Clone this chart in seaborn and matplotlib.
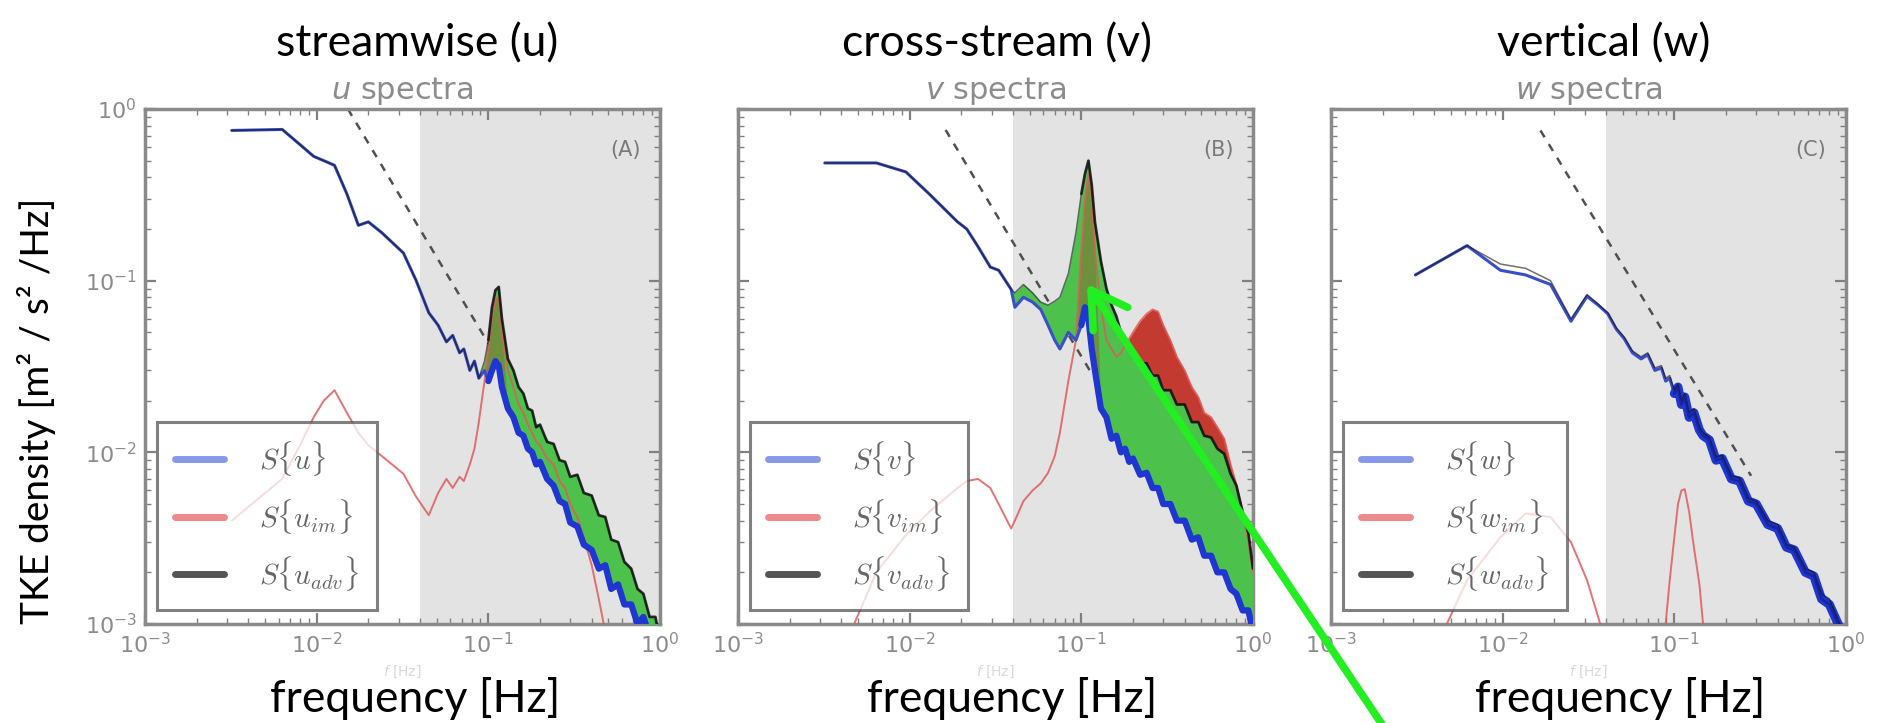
import matplotlib
matplotlib.use("Agg")
import matplotlib.pyplot as plt
import seaborn as sns
import numpy as np
from matplotlib.lines import Line2D
from matplotlib.font_manager import FontProperties
from matplotlib.patches import FancyArrowPatch
from matplotlib.ticker import LogLocator, NullFormatter

# ---------------- data ----------------
# Panel A : streamwise u
fA = [0.0032, 0.0063, 0.008, 0.0096, 0.011, 0.0127, 0.015, 0.0175, 0.02, 0.024,
      0.032, 0.038, 0.045, 0.051, 0.057, 0.062, 0.068, 0.072, 0.078, 0.083,
      0.088, 0.095, 0.10, 0.105, 0.11, 0.115, 0.12, 0.13, 0.14, 0.15,
      0.16, 0.17, 0.18, 0.19, 0.20, 0.22, 0.24, 0.26, 0.28, 0.30,
      0.33, 0.36, 0.40, 0.44, 0.48, 0.52, 0.57, 0.62, 0.68, 0.74,
      0.80, 0.87, 0.94, 1.0]
Su_A = [0.75, 0.76, 0.62, 0.53, 0.50, 0.47, 0.32, 0.21, 0.22, 0.19,
        0.145, 0.10, 0.065, 0.055, 0.044, 0.048, 0.038, 0.040, 0.030, 0.034,
        0.027, 0.030, 0.026, 0.030, 0.034, 0.032, 0.024, 0.018, 0.016, 0.013,
        0.0125, 0.0105, 0.0100, 0.0085, 0.0088, 0.0070, 0.0064, 0.0052, 0.0050, 0.0039,
        0.0037, 0.0029, 0.0027, 0.0021, 0.0022, 0.0016, 0.0017, 0.0013, 0.0013, 0.0010,
        0.0011, 0.00085, 0.00090, 0.0007]
Sadv_A = [0.75, 0.76, 0.62, 0.53, 0.50, 0.47, 0.32, 0.21, 0.22, 0.19,
          0.145, 0.10, 0.065, 0.055, 0.044, 0.048, 0.038, 0.040, 0.030, 0.034,
          0.027, 0.034, 0.045, 0.070, 0.088, 0.092, 0.060, 0.035, 0.030, 0.024,
          0.022, 0.018, 0.0175, 0.014, 0.0145, 0.0115, 0.0112, 0.0090, 0.0088, 0.0072,
          0.0074, 0.0058, 0.0056, 0.0043, 0.0042, 0.0031, 0.0030, 0.0023, 0.0021, 0.0016,
          0.0015, 0.0011, 0.0011, 0.0008]
Sim_A = [0.0040, 0.0070, 0.011, 0.016, 0.020, 0.023, 0.017, 0.013, 0.011, 0.0095,
         0.0075, 0.0055, 0.0043, 0.0058, 0.0070, 0.0062, 0.0072, 0.0068, 0.0085, 0.0105,
         0.015, 0.026, 0.040, 0.060, 0.078, 0.080, 0.050, 0.030, 0.024, 0.019,
         0.017, 0.0145, 0.013, 0.0115, 0.011, 0.0092, 0.0085, 0.0068, 0.0062, 0.0050,
         0.0042, 0.0032, 0.0022, 0.0014, 0.0009, 0.0006, 0.0005, 0.0004, 0.0004, 0.0003,
         0.0003, 0.0003, 0.0003, 0.0003]

# Panel B : cross-stream v
fB = [0.0032, 0.0064, 0.0095, 0.013, 0.019, 0.0215, 0.025, 0.0295, 0.033, 0.039,
      0.041, 0.046, 0.052, 0.058, 0.064, 0.070, 0.075, 0.084, 0.093, 0.100,
      0.105, 0.11, 0.115, 0.12, 0.13, 0.14, 0.15, 0.16, 0.17, 0.18,
      0.19, 0.20, 0.22, 0.24, 0.26, 0.28, 0.30, 0.33, 0.36, 0.40,
      0.44, 0.48, 0.52, 0.57, 0.62, 0.68, 0.74, 0.80, 0.87, 0.94, 1.0]
Sv_B = [0.485, 0.485, 0.43, 0.32, 0.22, 0.20, 0.158, 0.12, 0.115, 0.089,
        0.070, 0.080, 0.075, 0.068, 0.055, 0.045, 0.040, 0.050, 0.045, 0.055,
        0.070, 0.060, 0.040, 0.030, 0.018, 0.016, 0.012, 0.0125, 0.0100, 0.0105,
        0.0088, 0.0092, 0.0074, 0.0076, 0.0062, 0.0062, 0.0050, 0.0050, 0.0040, 0.0040,
        0.0031, 0.0032, 0.0025, 0.0025, 0.0020, 0.0020, 0.0016, 0.0015, 0.0012, 0.0012, 0.0009]
Sadv_B = [0.485, 0.485, 0.43, 0.32, 0.22, 0.20, 0.158, 0.12, 0.115, 0.089,
          0.085, 0.095, 0.085, 0.075, 0.072, 0.076, 0.080, 0.11, 0.19, 0.32,
          0.42, 0.50, 0.36, 0.22, 0.13, 0.090, 0.072, 0.062, 0.050, 0.046,
          0.039, 0.039, 0.033, 0.033, 0.028, 0.028, 0.023, 0.023, 0.019, 0.019,
          0.015, 0.015, 0.0125, 0.0122, 0.0105, 0.0098, 0.0075, 0.0064, 0.0045, 0.0034, 0.0021]
Sim_B = [0.0004, 0.0020, 0.0033, 0.0045, 0.0062, 0.0068, 0.0070, 0.0062, 0.0050, 0.0036,
         0.0040, 0.0052, 0.0060, 0.0066, 0.0076, 0.0095, 0.013, 0.026, 0.045, 0.15,
         0.30, 0.42, 0.30, 0.15, 0.070, 0.045, 0.040, 0.036, 0.038, 0.042,
         0.046, 0.050, 0.058, 0.064, 0.068, 0.066, 0.055, 0.045, 0.036, 0.030,
         0.024, 0.021, 0.017, 0.016, 0.014, 0.012, 0.0085, 0.0065, 0.0045, 0.0030, 0.0020]

# Panel C : vertical w
fC = [0.0031, 0.0062, 0.0097, 0.0136, 0.019, 0.025, 0.031, 0.036, 0.041, 0.046,
      0.051, 0.057, 0.064, 0.07, 0.077, 0.084, 0.089, 0.094, 0.10, 0.105,
      0.11, 0.115, 0.122, 0.13, 0.14, 0.147, 0.16, 0.175, 0.19, 0.215,
      0.24, 0.27, 0.30, 0.35, 0.40, 0.45, 0.50, 0.58, 0.65, 0.72,
      0.80, 0.90, 1.0]
Sw_C = [0.108, 0.16, 0.115, 0.108, 0.095, 0.058, 0.081, 0.072, 0.064, 0.052,
        0.046, 0.038, 0.035, 0.037, 0.030, 0.031, 0.026, 0.027, 0.022, 0.024,
        0.019, 0.021, 0.016, 0.017, 0.0135, 0.0125, 0.0118, 0.0090, 0.0092, 0.0070,
        0.0068, 0.0052, 0.0050, 0.0038, 0.0036, 0.0028, 0.0027, 0.0020, 0.0019, 0.0014,
        0.0013, 0.0010, 0.0008]
Sadv_C = [0.108, 0.16, 0.125, 0.118, 0.100, 0.060, 0.083, 0.073, 0.065, 0.053,
          0.047, 0.039, 0.036, 0.038, 0.031, 0.032, 0.027, 0.028, 0.023, 0.025,
          0.020, 0.022, 0.017, 0.018, 0.014, 0.013, 0.0122, 0.0094, 0.0096, 0.0073,
          0.0071, 0.0054, 0.0052, 0.0040, 0.0038, 0.0029, 0.0028, 0.0021, 0.0020, 0.0015,
          0.0014, 0.00105, 0.00085]
Sim_C = [0.0004, 0.0018, 0.0032, 0.0044, 0.0042, 0.0030, 0.0018, 0.0011, 0.0007, 0.0004,
         0.0003, 0.0003, 0.0003, 0.0003, 0.0004, 0.0006, 0.0010, 0.0018, 0.0032, 0.0050,
         0.0060, 0.0061, 0.0045, 0.0028, 0.0017, 0.0010, 0.0006, 0.0004, 0.0003, 0.0003,
         0.0002, 0.0002, 0.0002, 0.0002, 0.0002, 0.0002, 0.0002, 0.0002, 0.0002, 0.0002,
         0.0002, 0.0002, 0.0002]

# -5/3 reference line end points
dash_f = {"A": [0.0152, 0.30], "B": [0.0162, 0.30], "C": [0.0166, 0.28]}
dash_S = {"A": [1.0, 0.0069], "B": [0.755, 0.0058], "C": [0.75, 0.0073]}

band_start = 0.04  # shaded high-frequency range start [Hz]

panel_keys = ["A", "B", "C"]
comp = ["u", "v", "w"]
big_titles = ["streamwise (u)", "cross-stream (v)", "vertical (w)"]
small_titles = ["$u$ spectra", "$v$ spectra", "$w$ spectra"]
freqs = {"A": fA, "B": fB, "C": fC}
S_main = {"A": Su_A, "B": Sv_B, "C": Sw_C}
S_adv = {"A": Sadv_A, "B": Sadv_B, "C": Sadv_C}
S_im = {"A": Sim_A, "B": Sim_B, "C": Sim_C}

# ---------------- style ----------------
sns.set_theme(style="ticks")
plt.rcParams["font.family"] = ["DejaVu Sans"]

W, H = 1883, 723
fig = plt.figure(figsize=(W / 100, H / 100), dpi=100)

ax_left_px = [145, 738, 1331]
ax_top_px, ax_size_px = 109, 515

BLUE = "#3a4fc8"
RED = "#e05a5a"
GREEN = "#4cc24c"

axes = []
for i, key in enumerate(panel_keys):
    ax = fig.add_axes([ax_left_px[i] / W, (H - ax_top_px - ax_size_px) / H,
                       ax_size_px / W, ax_size_px / H])
    axes.append(ax)
    ax.set_xscale("log")
    ax.set_yscale("log")
    ax.set_xlim(1e-3, 1)
    ax.set_ylim(1e-3, 1)
    ax.axvspan(band_start, 1, color="#e3e3e3", lw=0, zorder=0)

    f = np.array(freqs[key])
    s = np.array(S_main[key])
    a = np.array(S_adv[key])
    r = np.array(S_im[key])

    sns.lineplot(x=dash_f[key], y=dash_S[key], ax=ax, color="#505050", lw=1.8,
                 linestyle=(0, (3.2, 3.2)), zorder=2, estimator=None)
    if key != "C":
        ax.fill_between(f, s, a, where=a >= s, interpolate=True, color=GREEN,
                        lw=0, zorder=3)
        pk = (f >= 0.095) & (f <= 0.125)
        ax.fill_between(f, s, np.minimum(r, a), where=pk & (r > s), interpolate=True,
                        color="#b03020", alpha=0.35, lw=0, zorder=3.5)
    if key == "B":
        ax.fill_between(f, a, r, where=(r > a) & (f > 0.13), interpolate=True,
                        color="#c0281c", alpha=0.9, lw=0, zorder=3.6)

    sns.lineplot(x=f, y=r, ax=ax, color=RED, lw=1.4, alpha=0.85, zorder=4,
                 estimator=None)
    hi = f >= 0.1
    band_lw = 6.5 if key == "C" else 4.5
    sns.lineplot(x=f, y=s, ax=ax, color=BLUE, lw=2.2, zorder=5, estimator=None)
    sns.lineplot(x=f[hi], y=s[hi], ax=ax, color="#1f36d0", lw=band_lw, zorder=5,
                 estimator=None)
    sns.lineplot(x=f, y=a, ax=ax, color="#111111", lw=1.1, alpha=0.6, zorder=6,
                 estimator=None)
    if key != "C":
        sns.lineplot(x=f[hi], y=a[hi], ax=ax, color="#111111", lw=2.0, alpha=0.8,
                     zorder=6, estimator=None)
    else:
        sns.lineplot(x=f[hi], y=s[hi], ax=ax, color="#15208a", lw=2.0, alpha=0.7,
                     zorder=6, estimator=None)

    # axes cosmetics
    for sp in ax.spines.values():
        sp.set_color("#8a8a8a")
        sp.set_linewidth(2.5)
    ax.xaxis.set_major_locator(LogLocator(base=10, numticks=10))
    ax.yaxis.set_major_locator(LogLocator(base=10, numticks=10))
    ax.xaxis.set_minor_locator(LogLocator(base=10, subs=np.arange(2, 10), numticks=10))
    ax.yaxis.set_minor_locator(LogLocator(base=10, subs=np.arange(2, 10), numticks=10))
    ax.xaxis.set_minor_formatter(NullFormatter())
    ax.yaxis.set_minor_formatter(NullFormatter())
    ax.tick_params(which="both", direction="in", top=True, right=True,
                   colors="#808080", labelcolor="#8c8c8c", labelsize=16)
    ax.tick_params(which="major", length=8, width=1.6, pad=6)
    ax.tick_params(which="minor", length=4, width=1.0)
    if i > 0:
        ax.tick_params(labelleft=False)
    ax.set_xlabel("")
    ax.set_ylabel("")
    ax.set_title(small_titles[i], color="#8c8c8c", fontsize=22, pad=7)
    ax.text(0.962, 0.92, "(" + key + ")", transform=ax.transAxes, ha="right",
            va="center", color="#7a7a7a", fontsize=15)

    c = comp[i]
    labels = [r"$S\{%s\}$" % c, r"$S\{%s_{im}\}$" % c, r"$S\{%s_{adv}\}$" % c]
    handles = [Line2D([], [], color="#8898e8", lw=5),
               Line2D([], [], color="#ee8a8a", lw=5),
               Line2D([], [], color="#555555", lw=5)]
    leg = ax.legend(handles, labels, loc="lower left",
                    bbox_to_anchor=(0.024, 0.027), borderaxespad=0,
                    prop=FontProperties(size=21, math_fontfamily="cm"),
                    frameon=True, fancybox=False, edgecolor="#555555",
                    framealpha=0.75, handlelength=1.7, handletextpad=1.2,
                    labelspacing=0.62, borderpad=0.6, labelcolor="#666666")
    leg.get_frame().set_linewidth(2.2)
    leg.set_zorder(10)

# ---------------- figure-level texts ----------------
BIG = dict(family=["Lato", "DejaVu Sans"], fontsize=32, color="black")
title_x = [417, 997, 1604]
xlabel_x = [415, 1012, 1620]
for i in range(3):
    fig.text(title_x[i] / W, 1 - 44 / H, big_titles[i], ha="center", va="center", **BIG)
    fig.text((ax_left_px[i] + ax_size_px / 2) / W, 1 - 672 / H, "$f$ [Hz]",
             ha="center", va="center", color="#d8d8d8", fontsize=10)
    fig.text(xlabel_x[i] / W, 1 - 698 / H, "frequency [Hz]", ha="center",
             va="center", **BIG)
YL = dict(BIG)
YL["fontsize"] = 28
fig.text(37 / W, 1 - 411 / H, "TKE density [m² / s² /Hz]", rotation=90,
         ha="center", va="center", **YL)

# green annotation arrow pointing to the peak in panel B
arrow = FancyArrowPatch(posA=(1383 / W, -0.004), posB=(1087 / W, 1 - 284 / H),
                        transform=fig.transFigure,
                        arrowstyle="->,head_length=1.25,head_width=0.75",
                        mutation_scale=20, color="#22ee22", lw=5.5,
                        shrinkA=0, shrinkB=0, zorder=20)
fig.add_artist(arrow)

fig.savefig("out.png", dpi=100)
